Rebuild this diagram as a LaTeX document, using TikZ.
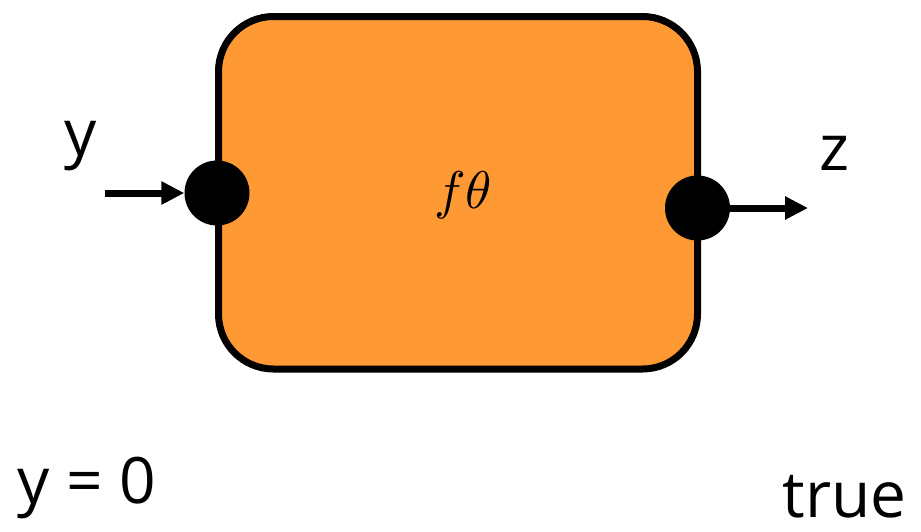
\documentclass[tikz,border=0pt]{standalone}
\usepackage{fontspec}
\setmainfont{Open Sans}
\usetikzlibrary{arrows.meta}
\definecolor{boxorange}{RGB}{255,153,51}
\begin{document}
\begin{tikzpicture}[x=1pt,y=-1pt,
  port/.style={circle,fill=black,inner sep=0pt,minimum size=65pt},
  flow/.style={line width=7pt,-{Triangle[length=23pt,width=22pt]}},
  lbl/.style={inner sep=0pt,font=\fontsize{64}{70}\selectfont}]
\useasboundingbox (0,0) rectangle (921,531);
\draw[line width=7pt,fill=boxorange,rounded corners=55pt] (218.5,16.5) rectangle (697.5,369);
\node[inner sep=0pt,scale=5.3] (f) at (463,195) {$f\theta$};
\node[port] (left) at (217,193) {};
\node[port] (right) at (697.5,208) {};
\coordinate (ystart) at (105,193);
\coordinate (zend) at (808,208);
\draw[flow] (ystart) -- (left.west);
\draw[flow] (right.east) -- (zend);
\node[lbl,anchor=base] (ylab) at (81,155) {y};
\node[lbl,anchor=base] (zlab) at (834,170) {z};
\node[lbl,anchor=base west] (y0) at (17,503) {y = 0};
\node[lbl,anchor=base east] (tr) at (907,517) {true};
\end{tikzpicture}
\end{document}
